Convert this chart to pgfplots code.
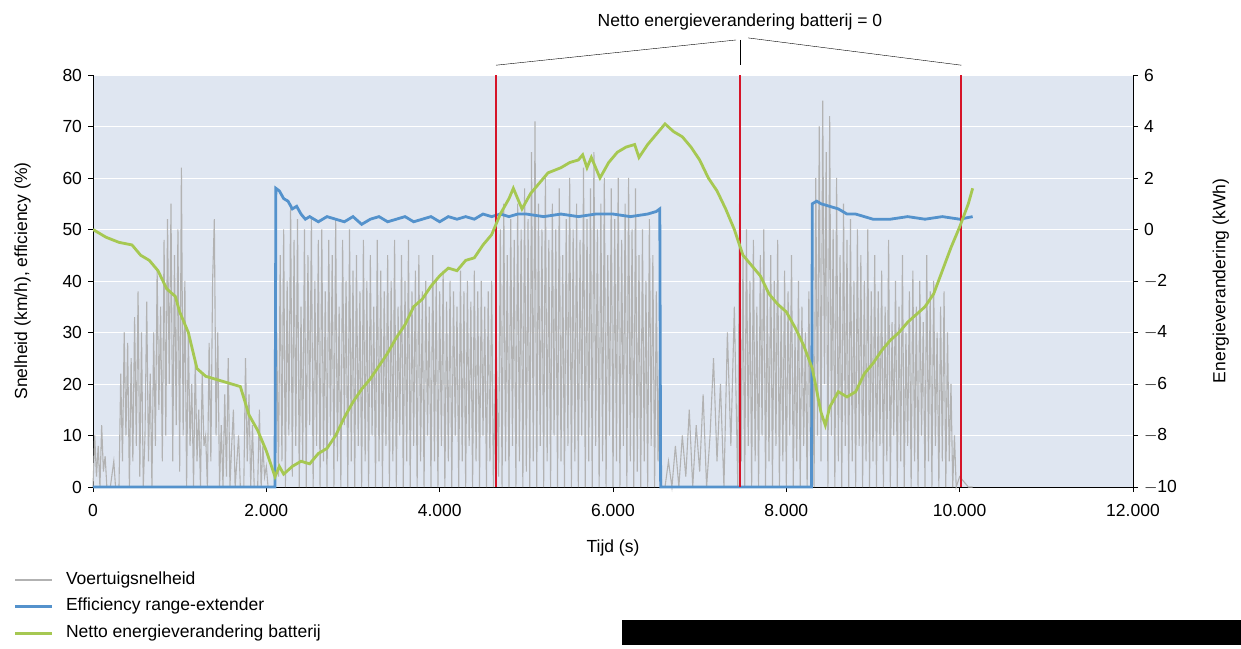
\documentclass[border=0pt]{standalone}
\usepackage{pgfplots}
\pgfplotsset{compat=1.18}
\usepackage{fontspec}
\setmainfont{Liberation Sans}
\definecolor{bgc}{RGB}{223,230,241}
\definecolor{spd}{RGB}{178,178,178}
\definecolor{eff}{RGB}{84,146,204}
\definecolor{nrg}{RGB}{166,200,82}
\definecolor{redl}{RGB}{214,20,40}
\begin{document}
\fontsize{17.5}{21}\selectfont
\begin{tikzpicture}[x=1pt,y=1pt]
\path (0,0) rectangle (1241,648);
\pgfplotsset{every axis/.append style={scale only axis,width=1040pt,height=412pt,
 at={(93pt,161pt)},anchor=south west,xmin=0,xmax=12000,
 tick style={black,thin},tick align=outside,major tick length=5pt,
 /pgf/number format/assume math mode=true,
 ticklabel style={font=\fontsize{17.5}{21}\selectfont},
 label style={font=\fontsize{17.5}{21}\selectfont}}}
\begin{axis}[axis background/.style={fill=bgc},
 ymin=0,ymax=80,ytick={0,10,...,80},
 axis y line*=left, axis x line*=bottom, axis line style={black},
 ymajorgrids, grid style={white,line width=0.8pt},
 xtick={0,2000,4000,6000,8000,10000,12000}, scaled x ticks=false,
 xticklabels={0,2.000,4.000,6.000,8.000,10.000,12.000},
 xticklabel style={yshift=-6pt},
 xlabel={Tijd (s)}, ylabel={Snelheid (km/h), efficiency (\%)},
 xlabel style={yshift=-12pt}, ylabel style={yshift=20pt},
 clip=false]
\addplot[spd,line width=1.1pt] coordinates {
(0,0)(20,10)(40,2)(60,8)(80,0)(100,12)(120,3)(140,6)(160,0)(200,0)(240,5)(260,0)(300,0)(320,22)(340,5)(360,30)(380,10)(400,28)(420,0)(440,25)(460,5)(480,33)(500,8)(520,38)(540,2)(560,30)(580,0)(600,10)(620,36)(640,5)(660,22)(680,0)(700,30)(720,8)(740,42)(760,15)(780,35)(800,5)(820,48)(840,10)(860,52)(880,20)(900,55)(920,5)(940,45)(960,12)(980,50)(1000,3)(1020,62)(1040,10)(1060,40)(1080,0)(1100,30)(1120,8)(1140,20)(1160,0)(1180,25)(1200,5)(1220,15)(1240,0)(1260,22)(1280,8)(1300,10)(1320,0)(1340,28)(1360,5)(1380,40)(1400,52)(1420,10)(1440,30)(1460,0)(1480,12)(1500,0)(1520,18)(1540,2)(1560,25)(1580,0)(1600,8)(1620,15)(1640,0)(1680,10)(1700,0)(1740,0)(1760,25)(1780,5)(1800,18)(1820,0)(1840,12)(1860,0)(1900,0)(1920,15)(1940,0)(1960,8)(1980,2)(2000,4)(2020,0)(2100,0)
(2120,30)(2140,2)(2160,45)(2180,5)(2200,50)(2220,0)(2240,40)(2260,10)(2280,55)(2300,2)(2320,48)(2340,8)(2360,52)(2380,0)(2400,35)(2420,5)(2440,50)(2460,0)(2480,45)(2500,12)(2520,52)(2540,0)(2560,40)(2580,8)(2600,48)(2620,0)(2640,50)(2660,5)(2680,38)(2700,0)(2720,48)(2740,10)(2760,45)(2780,0)(2800,52)(2820,5)(2840,35)(2860,0)(2880,48)(2900,12)(2920,40)(2940,0)(2960,50)(2980,5)(3000,42)(3020,0)(3040,45)(3060,8)(3080,38)(3100,0)(3120,48)(3140,5)(3160,40)(3180,0)(3200,45)(3220,10)(3240,35)(3260,0)(3280,48)(3300,5)(3320,42)(3340,0)(3360,38)(3380,8)(3400,45)(3420,0)(3440,40)(3460,5)(3480,48)(3500,0)(3520,35)(3540,10)(3560,45)(3580,0)(3600,40)(3620,5)(3640,48)(3660,0)(3680,38)(3700,8)(3720,42)(3740,0)(3760,45)(3780,5)(3800,38)(3820,0)(3840,40)(3860,10)(3880,35)(3900,0)(3920,45)(3940,5)(3960,40)(3980,0)(4000,38)(4020,8)(4040,42)(4060,0)(4080,36)(4100,5)(4120,40)(4140,0)(4160,38)(4180,10)(4200,35)(4220,0)(4240,42)(4260,5)(4280,38)(4300,0)(4320,40)(4340,8)(4360,36)(4380,0)(4400,42)(4420,5)(4440,38)(4460,0)(4480,40)(4500,10)(4520,35)(4540,0)(4560,38)(4580,5)(4600,40)(4620,0)(4650,30)
(4680,2)(4700,50)(4720,0)(4740,55)(4760,5)(4780,45)(4800,0)(4820,52)(4840,8)(4860,48)(4880,0)(4900,55)(4920,5)(4940,50)(4960,0)(4980,58)(5000,3)(5020,52)(5040,0)(5060,65)(5080,5)(5100,71)(5120,0)(5140,55)(5160,8)(5180,50)(5200,0)(5220,60)(5240,5)(5260,48)(5280,0)(5300,55)(5320,10)(5340,50)(5360,0)(5380,58)(5400,5)(5420,45)(5440,0)(5460,52)(5480,8)(5500,60)(5520,0)(5540,50)(5560,5)(5580,55)(5600,0)(5620,48)(5640,10)(5660,62)(5680,0)(5700,52)(5720,5)(5740,58)(5760,0)(5780,65)(5800,8)(5820,50)(5840,0)(5860,55)(5880,5)(5900,60)(5920,0)(5940,45)(5960,10)(5980,58)(6000,0)(6020,52)(6040,5)(6060,60)(6080,0)(6100,48)(6120,8)(6140,55)(6160,0)(6180,60)(6200,5)(6220,50)(6240,0)(6260,58)(6280,3)(6300,45)(6320,0)(6340,50)(6360,5)(6380,40)(6400,0)(6420,52)(6440,8)(6460,45)(6480,0)(6500,38)(6520,5)(6540,30)(6560,0)
(6600,0)(6640,5)(6680,0)(6720,8)(6760,0)(6800,10)(6840,2)(6880,15)(6920,0)(6960,12)(7000,3)(7040,18)(7080,0)(7120,10)(7160,25)(7200,5)(7240,20)(7280,0)(7320,30)(7360,8)(7400,35)(7440,0)(7460,55)
(7480,5)(7500,45)(7520,0)(7540,50)(7560,8)(7580,40)(7600,0)(7620,48)(7640,5)(7660,35)(7680,0)(7700,45)(7720,10)(7740,50)(7760,0)(7780,38)(7800,5)(7820,45)(7840,0)(7860,40)(7880,8)(7900,48)(7920,0)(7940,35)(7960,5)(7980,42)(8000,0)(8020,38)(8040,10)(8060,45)(8080,0)(8100,30)(8120,5)(8140,40)(8160,0)(8180,35)(8200,8)(8220,30)(8240,0)(8260,38)(8280,5)(8300,40)
(8320,0)(8340,60)(8360,10)(8380,70)(8400,5)(8420,75)(8440,20)(8460,65)(8480,0)(8500,72)(8520,10)(8540,50)(8560,0)(8580,60)(8600,5)(8620,45)(8640,0)(8660,55)(8680,8)(8700,48)(8720,0)(8740,52)(8760,5)(8780,40)(8800,0)(8820,50)(8840,8)(8860,45)(8880,0)(8900,40)(8920,5)(8940,50)(8960,0)(8980,38)
(9000,5)(9020,45)(9040,0)(9060,38)(9080,8)(9100,42)(9120,0)(9140,35)(9160,5)(9180,48)(9200,0)(9220,32)(9240,10)(9260,40)(9280,0)(9300,35)(9320,5)(9340,45)(9360,0)(9380,30)(9400,8)(9420,38)(9440,0)(9460,42)(9480,5)(9500,35)(9520,0)(9540,40)(9560,10)(9580,32)(9600,0)(9620,45)(9640,5)(9660,38)(9680,0)(9700,40)(9720,8)(9740,30)(9760,0)(9780,35)(9800,5)(9820,38)(9840,0)(9860,30)(9880,5)(9900,20)(9920,0)(9940,10)(9960,0)(10000,2)(10100,0)(10150,0)};
\addplot[eff,line width=2.8pt] coordinates {
(0,0)(2100,0)(2110,58)(2150,57.5)(2200,56)(2250,55.5)(2300,54)(2350,54.5)(2400,53)(2450,52)(2500,52.5)(2600,51.5)(2700,52.5)(2800,52)(2900,51.5)(3000,52.5)(3100,51)(3200,52)(3300,52.5)(3400,51.5)(3500,52)(3600,52.5)(3700,51.5)(3800,52)(3900,52.5)(4000,51.5)(4100,52.5)(4200,52)(4300,52.5)(4400,52)(4500,53)(4600,52.5)(4700,53)(4800,52.5)(4900,53)(5000,53)(5200,52.5)(5400,53)(5600,52.5)(5800,53)(6000,53)(6200,52.5)(6400,53)(6500,53.5)(6540,54)(6550,0)(8290,0)(8300,55)(8350,55.5)(8400,55)(8500,54.5)(8600,54)(8700,53)(8800,53)(8900,52.5)(9000,52)(9200,52)(9400,52.5)(9600,52)(9800,52.5)(10000,52)(10150,52.5)};
\draw[black,thin] (axis cs:7420,86.8) -- (axis cs:4650,81.9);
\draw[black,thin] (axis cs:7470,86.8) -- (axis cs:7470,81.9);
\draw[black,thin] (axis cs:7560,87.2) -- (axis cs:10020,81.9);
\node at (axis cs:7465,90.3) {Netto energieverandering batterij = 0};
\end{axis}
\begin{axis}[ymin=-10,ymax=6,ytick={-10,-8,...,6},
 yticklabel={\ifdim\tick pt<0pt \pgfmathparse{-\tick}$-$\pgfmathprintnumber{\pgfmathresult}\else\pgfmathprintnumber{\tick}\fi},
 axis y line*=right, axis x line=none, axis line style={black},
 ylabel={Energieverandering (kWh)}, ylabel style={yshift=-24pt}]
\addplot[redl,line width=2pt] coordinates {(4650,-10)(4650,6)};
\addplot[redl,line width=2pt] coordinates {(7470,-10)(7470,6)};
\addplot[redl,line width=2pt] coordinates {(10020,-10)(10020,6)};
\addplot[nrg,line width=2.8pt] coordinates {
(0,0)(150,-0.3)(300,-0.5)(450,-0.6)(550,-1.0)(650,-1.2)(750,-1.6)(850,-2.3)(950,-2.6)(1000,-3.2)(1100,-4.0)(1200,-5.4)(1300,-5.7)(1400,-5.8)(1500,-5.9)(1600,-6.0)(1700,-6.1)(1800,-7.2)(1900,-7.8)(2000,-8.6)(2100,-9.6)(2150,-9.2)(2200,-9.5)(2300,-9.2)(2400,-9.0)(2500,-9.1)(2600,-8.7)(2700,-8.5)(2800,-8.0)(2900,-7.3)(3000,-6.7)(3100,-6.2)(3200,-5.8)(3300,-5.3)(3400,-4.8)(3500,-4.2)(3600,-3.7)(3700,-3.0)(3800,-2.7)(3900,-2.2)(4000,-1.8)(4100,-1.5)(4200,-1.6)(4300,-1.2)(4400,-1.1)(4500,-0.6)(4600,-0.2)(4700,0.6)(4800,1.2)(4850,1.6)(4950,0.8)(5050,1.4)(5150,1.8)(5250,2.2)(5400,2.4)(5500,2.6)(5600,2.7)(5650,2.9)(5700,2.4)(5750,2.8)(5850,2.0)(5950,2.6)(6050,3.0)(6150,3.2)(6250,3.3)(6300,2.8)(6400,3.3)(6500,3.7)(6600,4.1)(6700,3.8)(6800,3.6)(6900,3.2)(7000,2.7)(7100,2.0)(7200,1.5)(7300,0.8)(7400,0.0)(7500,-1.0)(7600,-1.4)(7700,-1.8)(7800,-2.5)(7900,-2.9)(8000,-3.2)(8100,-3.8)(8200,-4.5)(8300,-5.4)(8400,-7.1)(8450,-7.6)(8500,-6.9)(8600,-6.3)(8700,-6.5)(8800,-6.3)(8900,-5.6)(9000,-5.2)(9100,-4.7)(9200,-4.3)(9300,-4.0)(9400,-3.6)(9500,-3.3)(9600,-3.0)(9700,-2.5)(9800,-1.6)(9900,-0.7)(10000,0.1)(10100,1.0)(10150,1.6)};
\end{axis}
\draw[spd,line width=1.2pt] (15,68) -- (52,68);
\node[anchor=west] at (60,68) {Voertuigsnelheid};
\draw[eff,line width=3pt] (15,42) -- (52,42);
\node[anchor=west] at (60,42) {Efficiency range-extender};
\draw[nrg,line width=3pt] (15,15) -- (52,15);
\node[anchor=west] at (60,15) {Netto energieverandering batterij};
\fill[black] (622,3) rectangle (1241,28);
\end{tikzpicture}
\end{document}
